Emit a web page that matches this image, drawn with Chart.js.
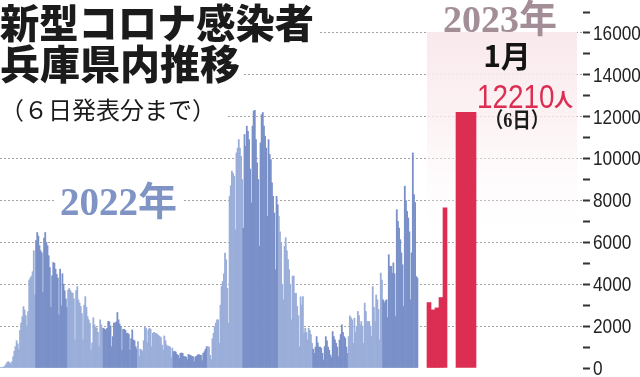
<!DOCTYPE html>
<html lang="ja">
<head>
<meta charset="utf-8">
<style>
  html, body { margin: 0; padding: 0; background: #fff; }
  #wrap { width: 640px; height: 377px; }
</style>
<script src="https://cdn.jsdelivr.net/npm/chart.js@4/dist/chart.umd.min.js"></script>
</head>
<body>
<div id="wrap"><canvas id="chart" width="640" height="377"></canvas></div>
<script>
// daily new cases in Hyogo, 2022
const jan22 = [20, 25, 40, 60, 110, 200, 280, 300, 250, 200, 300, 540, 800, 1020, 1300, 1150, 900, 1800, 2150, 2450, 2930, 2770, 2500, 2000, 2700, 4200, 4300, 4390, 4600, 5600, 3500];
const feb22 = [6080, 6470, 6300, 5840, 5600, 5500, 3600, 6200, 6470, 6000, 5840, 5360, 4800, 2900, 4400, 5040, 5000, 4720, 4470, 4300, 2540, 4720, 2970, 4500, 4000, 3690, 3300, 2900];
const mar22 = [3730, 3800, 3700, 3600, 3570, 3300, 1340, 3700, 3890, 3250, 3100, 2940, 2600, 1340, 3000, 3410, 2900, 2450, 2300, 2140, 860, 1200, 2400, 2060, 1950, 1900, 1700, 1020, 2300, 2060, 1900];
const apr22 = [1900, 1850, 1810, 1900, 2230, 2200, 2010, 1020, 1500, 2140, 2140, 2200, 2650, 2300, 2100, 1980, 860, 1850, 1850, 1800, 1660, 1660, 1600, 860, 1400, 1820, 1340, 1300, 1020, 900];
const may22 = [1260, 540, 900, 860, 800, 1300, 1950, 1900, 1200, 1820, 1900, 1850, 1020, 1660, 1700, 1660, 1650, 1600, 1550, 1500, 1450, 1100, 860, 1530, 1300, 1100, 1020, 1050, 1000, 500, 950];
const jun22 = [780, 800, 760, 650, 600, 450, 700, 720, 700, 560, 540, 520, 400, 650, 620, 600, 560, 540, 300, 520, 560, 620, 640, 620, 600, 350, 700, 780, 900, 1020];
const jul22 = [1020, 1000, 600, 400, 1400, 1660, 1980, 2150, 2300, 2300, 1180, 3000, 3890, 4130, 4500, 5490, 5170, 3800, 2140, 8200, 8700, 9400, 9300, 9160, 6600, 10270, 10500, 10910, 10500, 10110, 9000];
const aug22 = [6680, 11150, 10590, 11550, 11300, 10910, 9500, 7880, 11550, 12270, 12300, 10910, 9800, 9000, 5810, 10750, 12100, 12200, 11550, 11070, 10500, 7240, 10910, 10200, 9950, 8840, 8200, 7400, 4690, 8200, 7800];
const sep22 = [7240, 6500, 5980, 4000, 3260, 5810, 6220, 5600, 5180, 4690, 4000, 2300, 4390, 4390, 3570, 3570, 2940, 2500, 1020, 3400, 3000, 3410, 1660, 1900, 1700, 1340, 1900, 1800, 1600, 1180];
const oct22 = [900, 700, 1000, 1500, 1200, 1000, 1000, 950, 700, 380, 1020, 1500, 1300, 1000, 850, 620, 500, 1740, 1500, 1340, 1180, 1000, 540, 1340, 1600, 2060, 1700, 1500, 1420, 1000, 700];
const nov22 = [1500, 2490, 2400, 2300, 1180, 2380, 1700, 1980, 2700, 2500, 2060, 2220, 2000, 1180, 3100, 2700, 2220, 2220, 2220, 2000, 1500, 3890, 2900, 2220, 3490, 3260, 2800, 1340, 4530, 4200];
const dec22 = [3260, 3100, 3200, 3260, 2400, 5410, 4860, 4860, 4530, 5020, 4500, 2460, 7560, 7000, 6680, 6130, 5500, 4930, 2940, 8680, 8000, 7480, 7160, 6500, 3260, 5500, 10270, 8280, 7900, 4370, 4300];

// January 2023
const jan23Days = [1, 2, 3, 4, 5];
const jan23 = [3125, 2775, 2870, 3365, 7650];
const latestDay = 6;
const latestValue = 12210;

const yLabelTicks = [0, 2000, 4000, 6000, 8000, 10000, 12000, 14000, 16000];

const months22 = [jan22, feb22, mar22, apr22, may22, jun22, jul22, aug22, sep22, oct22, nov22, dec22];

const COLOR_LIGHT = "#9aaed9";
const COLOR_DARK = "#7a90c8";
const COLOR_RED = "#dc2d52";
const SANS_JP = "'Noto Sans CJK JP', 'Noto Sans', sans-serif";
const SANS = "'Liberation Sans', Arial, sans-serif";
const SERIF = "'Liberation Serif', 'DejaVu Serif', 'Noto Sans CJK JP', serif";
const NARROW = 0.82; // no condensed face installed, squeeze Liberation Sans instead

const points22 = [];
const colors22 = [];
let day = 0;
months22.forEach((month, m) => {
    for (const v of month) {
        day += 1;
        points22.push({ x: day, y: v });
        colors22.push(m % 2 === 0 ? COLOR_LIGHT : COLOR_DARK);
    }
});

function drawText(ctx, text, x, y, font, color, align = "left", baseline = "alphabetic", maxWidth) {
    ctx.save();
    ctx.font = font;
    ctx.fillStyle = color;
    ctx.textAlign = align;
    ctx.textBaseline = baseline;
    if (maxWidth) {
        ctx.fillText(text, x, y, maxWidth);
    } else {
        ctx.fillText(text, x, y);
    }
    ctx.restore();
}

function drawNarrow(ctx, text, x, y, font, color, baseline = "alphabetic") {
    ctx.save();
    ctx.translate(x, y);
    ctx.scale(NARROW, 1);
    ctx.font = font;
    ctx.fillStyle = color;
    ctx.textBaseline = baseline;
    ctx.fillText(text, 0, 0);
    ctx.restore();
}

const overlay = {
    id: "overlay",
    beforeDatasetsDraw(chart) {
        const { ctx, chartArea, scales } = chart;
        const y = scales.y;

        // white boxes behind the titles break the dotted grid
        ctx.save();
        ctx.fillStyle = "#fff";
        ctx.fillRect(0, 0, 320, 46);
        ctx.fillRect(0, 46, 244, 40);
        ctx.fillRect(0, 90, 228, 38);
        ctx.fillRect(54, 184, 130, 36);
        ctx.fillRect(434, 0, 134, 32);
        ctx.restore();

        // pink backdrop of the 2023 panel
        const left = scales.xJan.getPixelForValue(jan23Days[0] - 0.5);
        const right = chartArea.right - 6;
        const top = y.getPixelForValue(16000) - 1;
        const bottom = y.getPixelForValue(5500);
        const grad = ctx.createLinearGradient(0, top, 0, bottom);
        grad.addColorStop(0, "rgba(249,233,236,1)");
        grad.addColorStop(0.4, "rgba(251,238,240,0.75)");
        grad.addColorStop(1, "rgba(255,255,255,0)");
        ctx.save();
        ctx.fillStyle = grad;
        ctx.fillRect(left, top, right - left, bottom - top);
        ctx.restore();

        drawText(ctx, "新型コロナ感染者", 0, 23, "900 40px " + SANS_JP, "#1b1b1b", "left", "middle", 314);
        drawText(ctx, "兵庫県内推移", 0, 64, "900 40px " + SANS_JP, "#1b1b1b", "left", "middle", 242);
        drawText(ctx, "（６日発表分まで）", 0, 110, "400 24px " + SANS_JP, "#1b1b1b", "left", "middle", 224);

        drawText(ctx, "2022年", 60, 215, "bold 39px " + SERIF, "#7f93c4");
        drawText(ctx, "2023年", 443, 32, "bold 38px " + SERIF, "#a38d96");
        drawText(ctx, "1月", 507, 67, "bold 30px " + SANS_JP, "#141414", "center");

        const barRight = scales.xSix.getPixelForValue(latestDay + 0.5);
        const barTop = y.getPixelForValue(latestValue);
        drawNarrow(ctx, String(latestValue), barRight + 1, barTop - 4, "34px " + SANS, COLOR_RED);
        drawText(ctx, "人", barRight + 97, barTop - 5, "bold 19px " + SANS_JP, COLOR_RED, "right");
        drawText(ctx, "（6日）", barRight + 41, barTop + 9, "bold 21px " + SERIF, "#1b1b1b", "center", "middle", 64);
    },
    afterDraw(chart) {
        const { ctx, chartArea, scales } = chart;
        for (const v of yLabelTicks) {
            drawNarrow(ctx, String(v), chartArea.right + 10, scales.y.getPixelForValue(v) + 1, "21px " + SANS, "#222", "middle");
        }
    },
};

const dayTicks = (values) => (scale) => {
    scale.ticks = values.map((v) => ({ value: v }));
};

new Chart(document.getElementById("chart"), {
    type: "bar",
    data: {
        datasets: [
            {
                data: points22,
                xAxisID: "x",
                backgroundColor: colors22,
            },
            {
                data: jan23Days.map((d, i) => ({ x: d, y: jan23[i] })),
                xAxisID: "xJan",
                backgroundColor: COLOR_RED,
            },
            {
                data: [{ x: latestDay, y: latestValue }],
                xAxisID: "xSix",
                backgroundColor: COLOR_RED,
            },
        ],
    },
    options: {
        responsive: false,
        devicePixelRatio: 1,
        animation: false,
        datasets: {
            bar: { grouped: false, barPercentage: 1, categoryPercentage: 1, borderWidth: 0 },
        },
        layout: { padding: { top: 12, bottom: 9, left: 0, right: 0 } },
        plugins: {
            legend: { display: false },
            tooltip: { enabled: false },
        },
        scales: {
            x: { type: "linear", display: false, offset: false, min: 0.5, max: 509.6 },
            xJan: {
                type: "linear", display: false, offset: false, min: -106.25, max: 39.5,
                afterBuildTicks: dayTicks(jan23Days),
            },
            xSix: {
                type: "linear", display: false, offset: false, min: -17.3, max: 11.85,
                afterBuildTicks: dayTicks([latestDay - 1, latestDay, latestDay + 1]),
            },
            y: {
                position: "right",
                min: 0,
                max: 17000,
                afterFit(scale) {
                    scale.width = 57;
                },
                border: { display: false, dash: [2, 2] },
                grid: {
                    color: (c) => (c.tick && c.tick.value > 0 && c.tick.value % 2000 === 0 ? "#a4a4a4" : "rgba(0,0,0,0)"),
                    lineWidth: 1,
                    drawTicks: true,
                    tickLength: 7,
                    tickWidth: 2,
                    tickColor: "#333",
                },
                ticks: {
                    stepSize: 1000,
                    autoSkip: false,
                    padding: 3,
                    font: { size: 12, lineHeight: 1 },
                    callback: () => "",
                },
            },
        },
    },
    plugins: [overlay],
});
</script>
</body>
</html>
